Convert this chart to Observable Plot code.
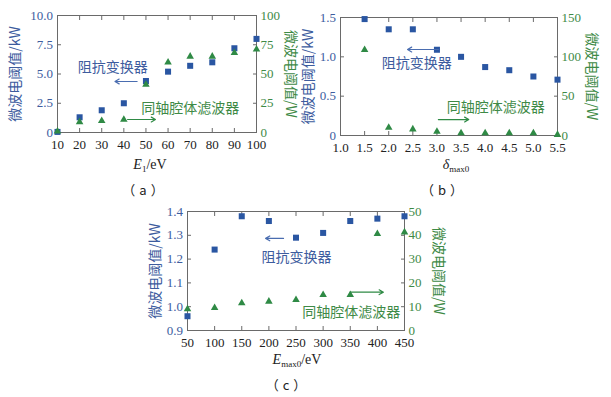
<!DOCTYPE html>
<html><head><meta charset="utf-8">
<script src="https://cdn.jsdelivr.net/npm/d3@7"></script>
<script src="https://cdn.jsdelivr.net/npm/@observablehq/plot@0.6"></script>
<style>
body{margin:0;background:#fff;}
#root{position:relative;width:611px;height:397px;overflow:hidden;font-family:"Liberation Serif","Noto Sans CJK SC",serif;}
.panel{position:absolute;}
.panel svg{position:absolute;left:0;top:0;overflow:visible;}
.lbl{position:absolute;font-size:14px;line-height:16px;transform:translateX(-50%);white-space:nowrap;color:#222;}
.lbl sub{font-size:9px;vertical-align:-3px;line-height:0;}
.cap{letter-spacing:4px;}
</style></head><body><div id="root"></div>
<script>
// ---- data ----
const aX = [10, 20, 30, 40, 50, 60, 70, 80, 90, 100];
const aKW = [0.05, 1.3, 1.9, 2.5, 4.4, 5.2, 5.7, 6.0, 7.2, 8.0];
const aW = [1, 9, 10, 11, 41, 60, 65, 65, 68, 71];
const aXTicks = [10, 20, 30, 40, 50, 60, 70, 80, 90, 100];
const aKWTicks = [0, 2.5, 5.0, 7.5, 10.0];
const aWTicks = [0, 25, 50, 75, 100];

const bX = [1.5, 2.0, 2.5, 3.0, 3.5, 4.0, 4.5, 5.0, 5.5];
const bKW = [1.48, 1.35, 1.35, 1.09, 1.0, 0.87, 0.83, 0.75, 0.71];
const bW = [109, 10, 8, 5, 3, 3, 3, 3, 1];
const bXTicks = [1.0, 1.5, 2.0, 2.5, 3.0, 3.5, 4.0, 4.5, 5.0, 5.5];
const bKWTicks = [0, 0.5, 1.0, 1.5];
const bWTicks = [0, 50, 100, 150];

const cX = [50, 100, 150, 200, 250, 300, 350, 400, 450];
const cKW = [0.96, 1.24, 1.38, 1.36, 1.29, 1.31, 1.36, 1.37, 1.38];
const cW = [9, 9.5, 11.5, 12.2, 12.9, 15, 15, 40.6, 41.3];
const cXTicks = [50, 100, 150, 200, 250, 300, 350, 400, 450];
const cKWTicks = [0.9, 1.0, 1.1, 1.2, 1.3, 1.4];
const cWTicks = [0, 10, 20, 30, 40, 50];

const leftLabel = "微波电阈值/kW";
const rightLabel = "微波电阈值/W";
const blueName = "阻抗变换器";
const greenName = "同轴腔体滤波器";

// ---- styles ----
const BLUE = "#2a56a2", BLUE_T = "#3d5c9e", GREEN = "#2f8a45", GREEN_T = "#3e8a46";
const FRAME = "#6a6a6a";
const FONT = "'Liberation Serif','Noto Sans CJK SC',serif";
const CJK = "'Noto Sans CJK SC',sans-serif";

const root = document.getElementById("root");

function fmtK(d) { return d === 0 ? "0" : d3.format(".1f")(d); }

function panel(p) {
  const div = document.createElement("div");
  div.className = "panel";
  Object.assign(div.style, {left: p.left + "px", top: p.top + "px", width: p.width + "px", height: p.height + "px"});
  root.appendChild(div);
  const common = {
    width: p.width, height: p.height,
    marginLeft: p.m[0], marginRight: p.m[1], marginTop: p.m[2], marginBottom: p.m[3],
    style: {background: "transparent", fontFamily: FONT, fontSize: "13px", overflow: "visible"}
  };
  const rowsK = p.x.map((x, i) => ({x, v: p.kw[i]}));
  const rowsW = p.x.map((x, i) => ({x, v: p.w[i]}));
  const base = Plot.plot({
    ...common,
    x: {domain: p.xDomain},
    y: {domain: p.kDomain},
    marks: [
      Plot.frame({stroke: FRAME}),
      Plot.axisX({ticks: p.xTicks, tickFormat: p.xFmt, tickSize: -4, tickPadding: 11, label: null, fill: "#222", stroke: FRAME}),
      Plot.axisX({anchor: "top", ticks: p.xTicks, tickFormat: () => "", tickSize: -4, label: null, stroke: FRAME}),
      Plot.axisY({ticks: p.kTicks, tickFormat: fmtK, tickSize: -4, tickPadding: 8.5, label: null, fill: BLUE_T, stroke: FRAME}),
      Plot.text([leftLabel], {frameAnchor: "left", textAnchor: "middle", rotate: -90, dx: -p.lOff, fill: BLUE_T, fontFamily: CJK, fontSize: 14}),
      Plot.dot(rowsK, {x: "x", y: "v", symbol: "square", r: 3.4, fill: BLUE}),
      Plot.text([blueName], {x: [p.bt[0]], y: [p.bt[1]], fill: BLUE_T, fontFamily: CJK, fontSize: 14}),
      Plot.arrow([0], {x1: [p.ba[0]], x2: [p.ba[1]], y1: [p.ba[2]], y2: [p.ba[2]], stroke: "#4a6db0", strokeWidth: 1.2, headLength: 6})
    ]
  });
  const over = Plot.plot({
    ...common,
    x: {domain: p.xDomain, axis: null},
    y: {domain: p.wDomain},
    marks: [
      Plot.axisY({anchor: "right", ticks: p.wTicks, tickSize: -4, tickPadding: 8, label: null, fill: GREEN_T, stroke: FRAME}),
      Plot.text([rightLabel], {frameAnchor: "right", textAnchor: "middle", rotate: 90, dx: p.rOff, fill: GREEN_T, fontFamily: CJK, fontSize: 14}),
      Plot.dot(rowsW, {x: "x", y: "v", symbol: "triangle", r: 2.8, fill: GREEN}),
      Plot.text([greenName], {x: [p.gt[0]], y: [p.gt[1]], fill: GREEN_T, fontFamily: CJK, fontSize: 14}),
      Plot.arrow([0], {x1: [p.ga[0]], x2: [p.ga[1]], y1: [p.ga[2]], y2: [p.ga[2]], stroke: GREEN, strokeWidth: 1.2, headLength: 6})
    ]
  });
  div.appendChild(base);
  div.appendChild(over);
  const xl = document.createElement("div");
  xl.className = "lbl";
  xl.innerHTML = p.xLabel;
  Object.assign(xl.style, {left: p.xl[0] + "px", top: p.xl[1] + "px"});
  root.appendChild(xl);
  const cap = document.createElement("div");
  cap.className = "lbl cap";
  cap.textContent = p.cap;
  Object.assign(cap.style, {left: p.cp[0] + "px", top: p.cp[1] + "px", fontFamily: CJK, fontSize: "13px"});
  root.appendChild(cap);
}

panel({
  left: 0, top: 0, width: 300, height: 175, m: [57, 44, 15, 43],
  xDomain: [10, 100], xTicks: aXTicks, xFmt: d3.format("d"),
  kDomain: [0, 10], kTicks: aKWTicks, wDomain: [0, 100], wTicks: aWTicks,
  x: aX, kw: aKW, w: aW, lOff: 42, rOff: 34,
  bt: [35, 5.56], ba: [46, 36, 4.36], gt: [70, 20.5], ga: [41.7, 54.3, 11.1],
  xLabel: "<i>E</i><sub>1</sub>/eV", xl: [150, 157], cap: "（a）", cp: [145, 182]
});
panel({
  left: 300, top: 0, width: 311, height: 175, m: [40, 54, 17, 40],
  xDomain: [1.0, 5.5], xTicks: bXTicks, xFmt: d3.format(".1f"),
  kDomain: [0, 1.5], kTicks: bKWTicks, wDomain: [0, 150], wTicks: bWTicks,
  x: bX, kw: bKW, w: bW, lOff: 32, rOff: 34,
  bt: [2.58, 0.915], ba: [3.03, 2.39, 1.093], gt: [4.22, 35.6], ga: [3.03, 3.66, 20.3],
  xLabel: "<i>δ</i><sub>max0</sub>", xl: [456, 157], cap: "（b）", cp: [444, 182]
});
panel({
  left: 140, top: 195, width: 320, height: 175, m: [47, 56, 16, 40],
  xDomain: [50, 450], xTicks: cXTicks, xFmt: d3.format("d"),
  kDomain: [0.9, 1.4], kTicks: cKWTicks, wDomain: [0, 50], wTicks: cWTicks,
  x: cX, kw: cKW, w: cW, lOff: 32, rOff: 34,
  bt: [251, 1.2075], ba: [227, 194, 1.287], gt: [352, 7.7], ga: [350, 411, 16.1],
  xLabel: "<i>E</i><sub>max0</sub>/eV", xl: [297, 352], cap: "（c）", cp: [288, 377]
});
</script></body></html>
